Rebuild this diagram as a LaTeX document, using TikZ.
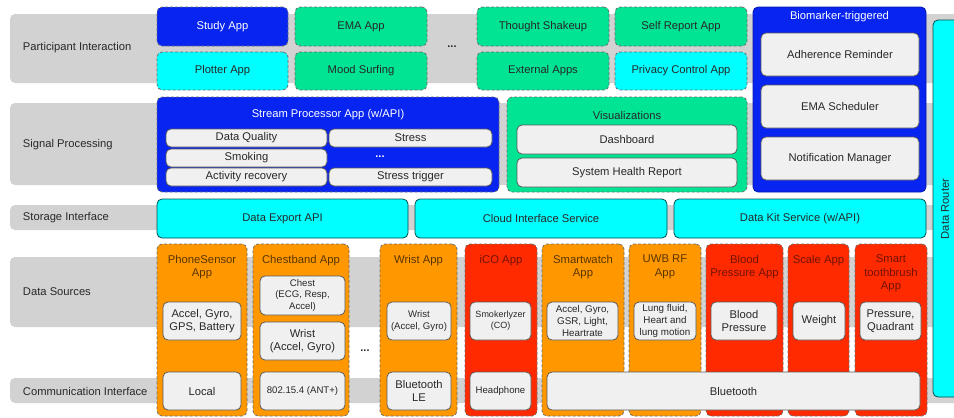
\documentclass[tikz,border=0pt]{standalone}
\usepackage{fontspec}
\setmainfont{Liberation Sans}
\definecolor{mblue}{RGB}{8,36,240}
\definecolor{mgreen}{RGB}{0,228,148}
\definecolor{mcyan}{RGB}{0,255,255}
\definecolor{morange}{RGB}{255,152,0}
\definecolor{mred}{RGB}{255,42,0}
\definecolor{bandgray}{RGB}{210,210,210}
\definecolor{innergray}{RGB}{240,240,240}
\definecolor{dashgray}{RGB}{110,110,110}
\definecolor{txt}{RGB}{40,40,40}
\newcommand\bx[7]{\node[#2, minimum width={(#5)-(#3)}, minimum height={(#6)-(#4)}] (#1) at ({((#3)+(#5))/2},{((#4)+(#6))/2}) {#7};}
\tikzset{
  base/.style={inner sep=0pt, outer sep=0pt, align=center, font=\fontsize{11.2}{12.5}\selectfont, text=txt},
  band/.style={base, fill=bandgray, rounded corners=5pt},
  lbl/.style={base, anchor=west},
  app/.style={base, rounded corners=5pt, draw=dashgray, line width=0.8pt, dash pattern=on 3pt off 2pt},
  bluebox/.style={app, fill=mblue, text=white},
  bluesolid/.style={base, rounded corners=5pt, fill=mblue, draw=mblue!70!black, line width=0.8pt},
  greenbox/.style={app, fill=mgreen},
  cyanbox/.style={app, fill=mcyan},
  orangecol/.style={app, fill=morange},
  redcol/.style={app, fill=mred},
  inner/.style={base, rounded corners=5pt, fill=innergray, draw=black!65, line width=0.8pt},
  store/.style={base, rounded corners=5pt, fill=mcyan, draw=teal!60!black, line width=0.8pt},
  otitle/.style={base, anchor=north, text=morange!35!black, font=\fontsize{11.3}{13.5}\selectfont},
  rtitle/.style={base, anchor=north, text=mred!45!black, font=\fontsize{11.3}{13.5}\selectfont},
  small/.style={font=\fontsize{9.6}{11.5}\selectfont},
  tiny/.style={font=\fontsize{9}{11}\selectfont},
  mid/.style={font=\fontsize{9.8}{12.3}\selectfont},
  dotsn/.style={base, font=\fontsize{11}{12}\selectfont\bfseries},
}
\begin{document}
\begin{tikzpicture}[x=1pt,y=-1pt]
\useasboundingbox (0,0) rectangle (954,418);
% bands
\bx{bPI}{band}{10}{14}{962}{83}{}
\bx{bSP}{band}{10}{103}{962}{185}{}
\bx{bSI}{band}{10}{205}{962}{230}{}
\bx{bDS}{band}{10}{257}{962}{327}{}
\bx{bCI}{band}{10}{378}{962}{403}{}
\node[lbl] (lPI) at (23,48) {Participant Interaction};
\node[lbl] (lSP) at (23,145) {Signal Processing};
\node[lbl] (lSI) at (23,218) {Storage Interface};
\node[lbl] (lDS) at (23,292) {Data Sources};
\node[lbl] (lCI) at (23,391) {Communication Interface};
% participant interaction
\bx{study}{bluebox}{157}{7}{288}{46}{Study App}
\bx{ema}{greenbox}{295}{7}{427}{46}{EMA App}
\bx{plotter}{cyanbox}{157}{52}{288}{90}{Plotter App}
\bx{mood}{greenbox}{295}{52}{427}{90}{Mood Surfing}
\node[dotsn] (dots1) at (452,47) {...};
\bx{thought}{greenbox}{477}{7}{609}{46}{Thought Shakeup}
\bx{selfrep}{greenbox}{615}{7}{747}{46}{Self Report App}
\bx{external}{greenbox}{477}{52}{609}{90}{External Apps}
\bx{privacy}{cyanbox}{615}{52}{747}{90}{Privacy Control App}
\bx{bio}{bluesolid}{753}{7}{926}{192}{}
\node[base, text=white] (biot) at (839.5,17) {Biomarker-triggered};
\bx{adh}{inner}{761}{33}{919}{76}{Adherence Reminder}
\bx{emas}{inner}{761}{85}{919}{128}{EMA Scheduler}
\bx{notif}{inner}{761}{137}{919}{180}{Notification Manager}
% signal processing
\bx{spa}{bluebox}{157}{97}{499}{192}{}
\node[base, text=white] (spat) at (328,115) {Stream Processor App (w/API)};
\bx{dq}{inner}{166}{129}{327}{147}{Data Quality}
\bx{stress}{inner}{329}{129}{492}{147}{Stress}
\bx{smok}{inner}{166}{149}{327}{167}{Smoking}
\node[dotsn, text=white] (dots2) at (380,157) {...};
\bx{actrec}{inner}{166}{168}{327}{186}{Activity recovery}
\bx{strtrig}{inner}{329}{168}{492}{186}{Stress trigger}
\bx{vis}{greenbox}{507}{97}{747}{192}{}
\node[base] (vist) at (627,115) {Visualizations};
\bx{dash}{inner}{517}{125}{737}{154}{Dashboard}
\bx{shr}{inner}{517}{158}{737}{187}{System Health Report}
% storage
\bx{dexp}{store}{157}{199}{408}{238}{Data Export API}
\bx{cloud}{store}{415}{199}{667}{238}{Cloud Interface Service}
\bx{dkit}{store}{674}{199}{926}{238}{Data Kit Service (w/API)}
% data router
\bx{router}{store}{933}{20}{964}{397}{}
\node[base, rotate=90] (routert) at (945,209) {Data Router};
% data sources columns
\bx{phone}{orangecol}{157}{244}{247}{416}{}
\bx{chest}{orangecol}{253}{244}{349}{416}{}
\bx{wrist}{orangecol}{380}{244}{457}{416}{}
\bx{ico}{redcol}{465}{244}{537}{416}{}
\bx{smartw}{orangecol}{542}{244}{624}{416}{}
\bx{uwb}{orangecol}{629}{244}{701}{416}{}
\bx{bp}{redcol}{706}{244}{783}{416}{}
\bx{scale}{redcol}{788}{244}{849}{416}{}
\bx{tooth}{redcol}{855}{244}{927}{416}{}
\node[otitle] (phonet) at (202,255) {PhoneSensor\\App};
\node[otitle] (chestt) at (301,255) {Chestband App};
\node[otitle] (wristt) at (418.5,255) {Wrist App};
\node[rtitle] (icot) at (501,255) {iCO App};
\node[otitle] (smartwt) at (583,255) {Smartwatch\\App};
\node[otitle] (uwbt) at (665,255) {UWB RF\\App};
\node[rtitle] (bpt) at (744.5,255) {Blood\\Pressure App};
\node[rtitle] (scalet) at (818.5,255) {Scale App};
\node[rtitle] (tootht) at (891,255) {Smart\\toothbrush\\App};
\bx{phoneacc}{inner}{163}{302}{241}{340}{Accel, Gyro,\\GPS, Battery}
\bx{local}{inner}{163}{372}{241}{410}{Local}
\bx{chestin}{inner, small}{260}{276}{345}{315}{Chest\\(ECG, Resp,\\Accel)}
\bx{chestwr}{inner}{260}{322}{345}{360}{Wrist\\(Accel, Gyro)}
\bx{ant}{inner, small}{260}{372}{345}{410}{802.15.4 (ANT+)}
\node[dotsn] (dots3) at (365,351) {...};
\bx{wristin}{inner, small}{387}{302}{451}{340}{Wrist\\(Accel, Gyro)}
\bx{ble}{inner}{387}{372}{451}{410}{Bluetooth\\LE}
\bx{smokz}{inner, tiny}{470}{302}{531}{340}{Smokerlyzer\\(CO)}
\bx{headph}{inner, small}{470}{372}{531}{410}{Headphone}
\bx{swin}{inner, mid}{547}{302}{618}{340}{Accel, Gyro,\\GSR, Light,\\Heartrate}
\bx{uwbin}{inner, mid}{634}{302}{696}{340}{Lung fluid,\\Heart and\\lung motion}
\bx{bpin}{inner}{711}{302}{777}{340}{Blood\\Pressure}
\bx{weight}{inner}{793}{302}{845}{340}{Weight}
\bx{toothin}{inner}{860}{302}{921}{340}{Pressure,\\Quadrant}
\bx{bt}{inner}{547}{372}{920}{410}{Bluetooth}
\end{tikzpicture}
\end{document}
